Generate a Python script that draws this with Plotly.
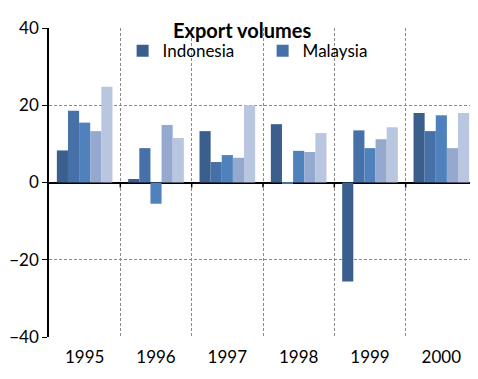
import plotly.graph_objects as go

years = ["1995", "1996", "1997", "1998", "1999", "2000"]
series_names = ["Indonesia", "Malaysia", "Philippines", "Thailand", "Korea"]
indonesia = [8.3, 0.9, 13.3, 15.1, -25.6, 18.0]
malaysia = [18.6, 8.9, 5.3, -0.3, 13.5, 13.3]
philippines = [15.5, -5.5, 7.1, 8.2, 8.9, 17.4]
thailand = [13.3, 14.9, 6.4, 7.9, 11.2, 8.9]
korea = [24.8, 11.5, 20.0, 12.8, 14.3, 18.0]
values = [indonesia, malaysia, philippines, thailand, korea]
colors = ["#3A5F8D", "#4570A8", "#4F81BD", "#95A9CF", "#B9C6DF"]
show = [True, True, False, False, False]
y_ticks = [-40, -20, 0, 20, 40]

FONT = "Lato"
fig = go.Figure()
for name, vals, c, s in zip(series_names, values, colors, show):
    fig.add_trace(go.Bar(x=years, y=vals, name=name, marker=dict(color=c, line=dict(width=0)),
                         showlegend=s))

# small tick marks on the zero line at category boundaries
for i in range(len(years) - 1):
    fig.add_shape(type="line", xref="x", yref="y", x0=i + 0.5, x1=i + 0.5, y0=0, y1=-1.3,
                  line=dict(color="black", width=1.5))

fig.update_layout(
    width=470, height=371,
    margin=dict(l=41, r=1, t=20, b=42, autoexpand=False),
    paper_bgcolor="white", plot_bgcolor="white",
    barmode="group", bargap=0.22, bargroupgap=0,
    font=dict(family=FONT, size=16, color="black"),
    showlegend=True,
    legend=dict(orientation="h", x=0.172, y=0.925, xanchor="left", yanchor="middle",
                entrywidth=95, entrywidthmode="pixels", bgcolor="rgba(0,0,0,0)",
                font=dict(family=FONT, size=17), tracegroupgap=0),
    annotations=[dict(text="<b>Export volumes</b>", xref="paper", yref="paper", x=0.45, y=0.993,
                      xanchor="center", yanchor="middle", showarrow=False,
                      font=dict(family=FONT, size=20))],
)
fig.update_xaxes(type="category", range=[-0.5, 5.5], tickson="boundaries",
                 showgrid=True, gridcolor="#8a8a8a", griddash="3px,2px", gridwidth=1,
                 ticks="", showline=False, tickfont=dict(size=17), ticklabelstandoff=8,
                 automargin=False)
fig.update_yaxes(range=[-40, 40], tickvals=y_ticks, showgrid=True, gridcolor="#8a8a8a",
                 griddash="3px,2px", gridwidth=1, zeroline=True, zerolinecolor="black",
                 zerolinewidth=1.5, showline=True, linecolor="black", linewidth=1.5,
                 ticks="outside", ticklen=5, tickcolor="black", tickfont=dict(size=17),
                 automargin=False)

fig.write_html("out.html")
